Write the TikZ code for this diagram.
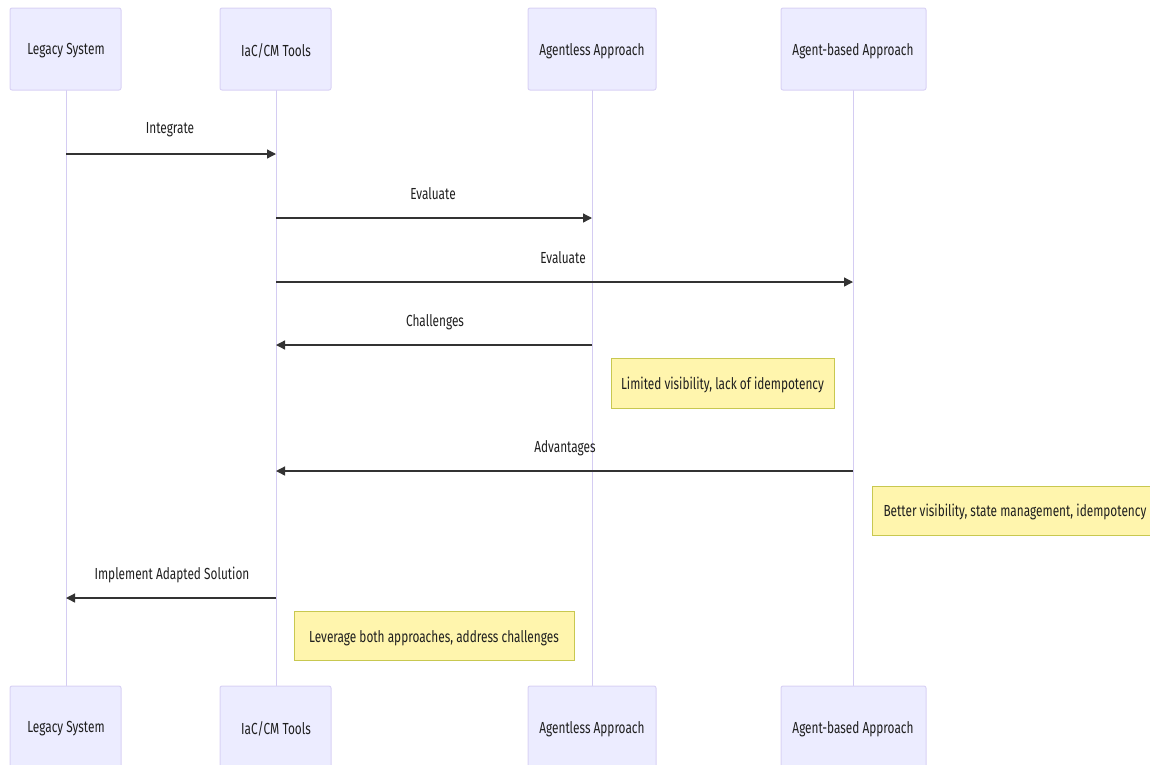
\documentclass[tikz,border=0pt]{standalone}
\usepackage{fontspec}
\setmainfont[FakeStretch=0.74]{Fira Sans}
\usetikzlibrary{arrows.meta}
\definecolor{actorfill}{HTML}{ECECFF}
\definecolor{actorline}{HTML}{D9D2F5}
\definecolor{lifeline}{HTML}{D4CCF2}
\definecolor{notefill}{HTML}{FFF5AD}
\definecolor{noteline}{HTML}{C8C850}
\definecolor{msgcol}{HTML}{333333}
\tikzset{
  actor/.style={draw=actorline, fill=actorfill, line width=1pt, rounded corners=2pt},
  life/.style={draw=lifeline, line width=1pt},
  msg/.style={draw=msgcol, line width=1.3pt, -{Triangle[length=9pt,width=9pt]}},
  msglabel/.style={font=\fontsize{16}{19}\selectfont, text=black!88},
  note/.style={draw=noteline, fill=notefill, line width=0.9pt}
}
\begin{document}
\begin{tikzpicture}[x=1pt,y=-1pt]
\useasboundingbox (0,0) rectangle (1150,764);
\clip (0,0) rectangle (1150,764);
% lifelines
\coordinate (lsT) at (66,90);  \coordinate (lsB) at (66,686);
\coordinate (icT) at (276,90); \coordinate (icB) at (276,686);
\coordinate (alT) at (592,90); \coordinate (alB) at (592,686);
\coordinate (abT) at (853,90); \coordinate (abB) at (853,686);
\draw[life] (lsT) -- (lsB);
\draw[life] (icT) -- (icB);
\draw[life] (alT) -- (alB);
\draw[life] (abT) -- (abB);
% actor boxes, top
\path[actor] (10,8) rectangle (121,90);   \node[msglabel] (ls1) at (66,51) {Legacy System};
\path[actor] (220,8) rectangle (331,90);  \node[msglabel] (ic1) at (276,51) {IaC/CM Tools};
\path[actor] (528,8) rectangle (656,90);  \node[msglabel] (al1) at (592,51) {Agentless Approach};
\path[actor] (781,8) rectangle (926,90);  \node[msglabel] (ab1) at (853,51) {Agent-based Approach};
% actor boxes, bottom
\path[actor] (10,686) rectangle (121,770);   \node[msglabel] (ls2) at (66,729) {Legacy System};
\path[actor] (220,686) rectangle (331,770);  \node[msglabel] (ic2) at (276,729) {IaC/CM Tools};
\path[actor] (528,686) rectangle (656,770);  \node[msglabel] (al2) at (592,729) {Agentless Approach};
\path[actor] (781,686) rectangle (926,770);  \node[msglabel] (ab2) at (853,729) {Agent-based Approach};
% messages
\coordinate (m1a) at (66,154);  \coordinate (m1b) at (276,154);
\draw[msg] (m1a) -- (m1b);
\node[msglabel] (t1) at (170,130) {Integrate};
\coordinate (m2a) at (276,218); \coordinate (m2b) at (592,218);
\draw[msg] (m2a) -- (m2b);
\node[msglabel] (t2) at (433,194) {Evaluate};
\coordinate (m3a) at (276,282); \coordinate (m3b) at (853,282);
\draw[msg] (m3a) -- (m3b);
\node[msglabel] (t3) at (563,258) {Evaluate};
\coordinate (m4a) at (592,345); \coordinate (m4b) at (276,345);
\draw[msg] (m4a) -- (m4b);
\node[msglabel] (t4) at (435,322) {Challenges};
\coordinate (m5a) at (853,471); \coordinate (m5b) at (276,471);
\draw[msg] (m5a) -- (m5b);
\node[msglabel] (t5) at (565,448) {Advantages};
\coordinate (m6a) at (276,598); \coordinate (m6b) at (66,598);
\draw[msg] (m6a) -- (m6b);
\node[msglabel] (t6) at (172,575) {Implement Adapted Solution};
% notes
\path[note] (611,358) rectangle (834,408);
\node[msglabel] (n1) at (722.5,385) {Limited visibility, lack of idempotency};
\path[note] (872,486) rectangle (1160,535);
\node[msglabel, anchor=west] (n2) at (880,512) {Better visibility, state management, idempotency};
\path[note] (294,611) rectangle (574,660);
\node[msglabel] (n3) at (434,638) {Leverage both approaches, address challenges};
\end{tikzpicture}
\end{document}
